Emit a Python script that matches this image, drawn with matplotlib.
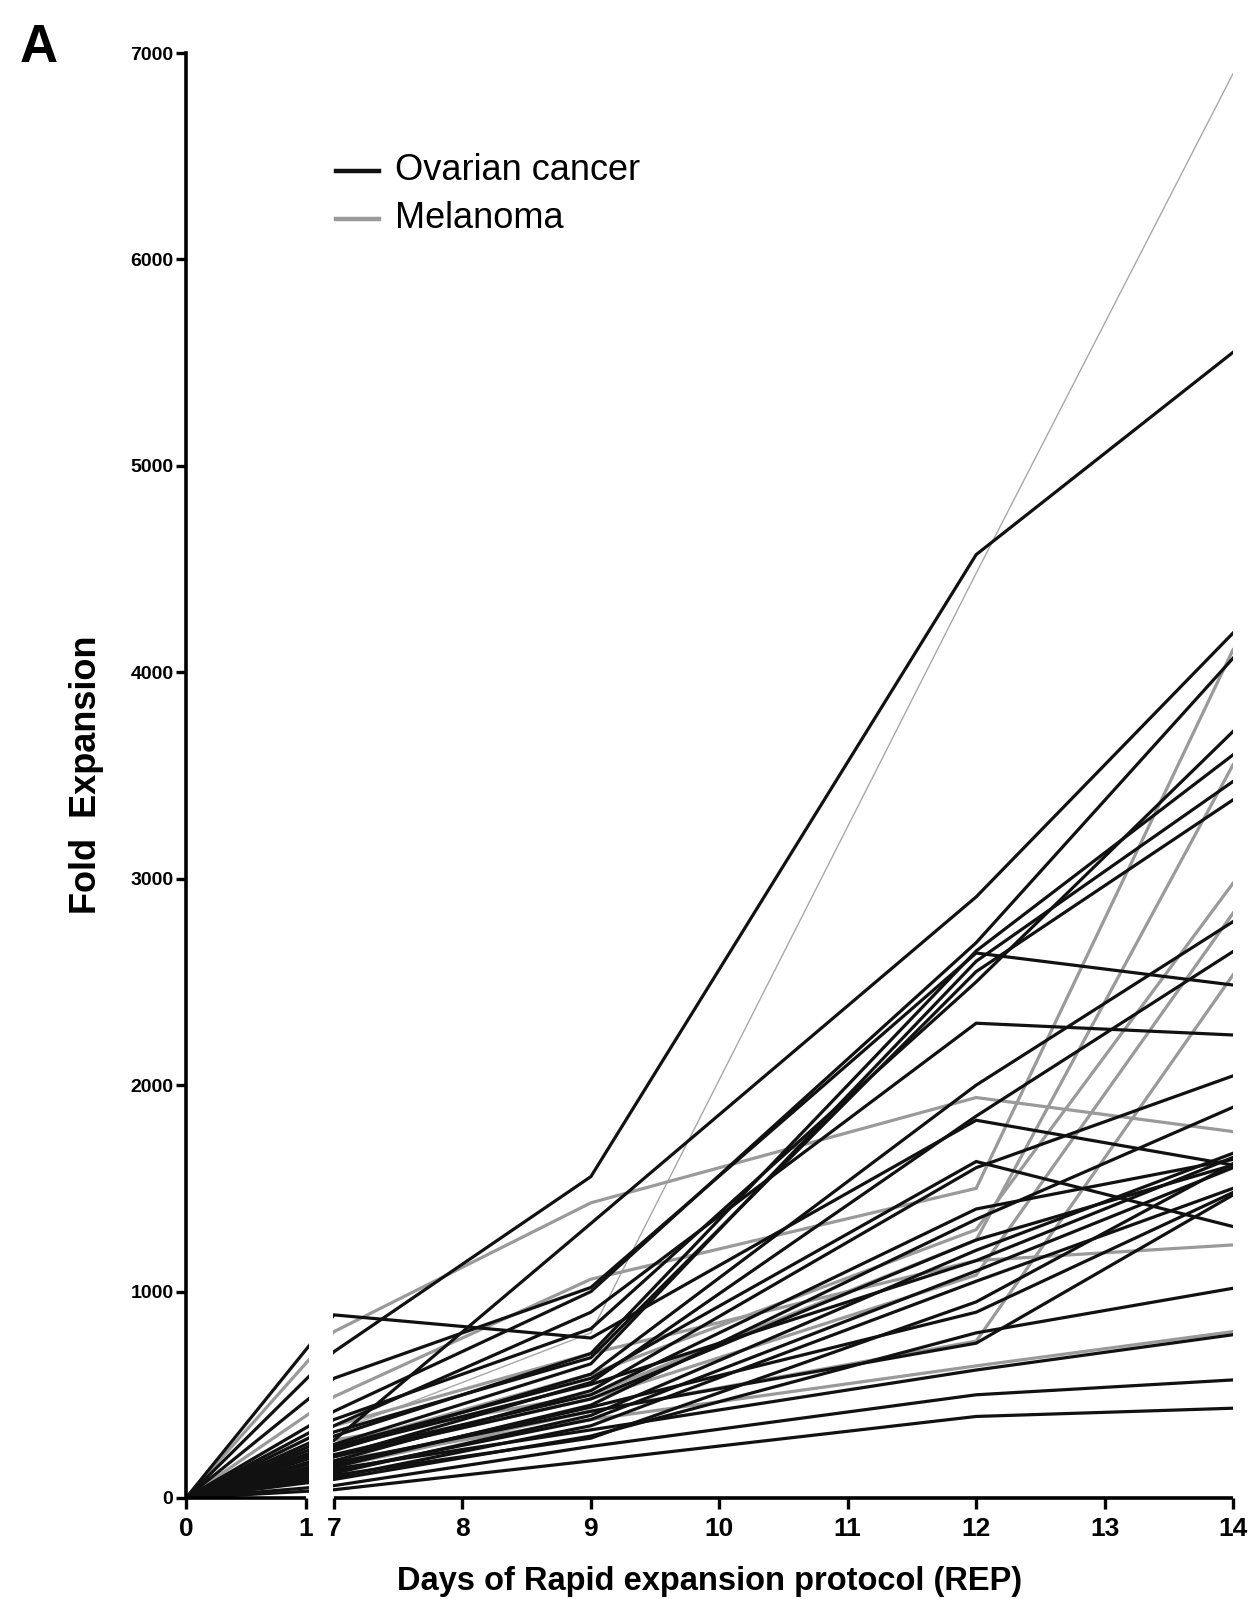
import matplotlib
matplotlib.use("Agg")
import matplotlib.pyplot as plt
from matplotlib import font_manager
from matplotlib.lines import Line2D
from matplotlib.patches import Rectangle

# Sampling days of the rapid expansion protocol
days = [0, 7, 9, 12, 14]

# Fold expansion per culture at days 7, 9, 12, 14 (day 0 is 0)
ovarian = [
    [709, 1557, 4570, 5550],
    [280, 1330, 2912, 4190],
    [420, 1000, 2690, 4068],
    [380, 820, 2500, 3713],
    [887, 775, 1830, 1613],
    [580, 1020, 2640, 2485],
    [350, 900, 2300, 2243],
    [300, 700, 2650, 3600],
    [260, 650, 2600, 3471],
    [320, 680, 2550, 3382],
    [230, 600, 2000, 2792],
    [200, 560, 1850, 2647],
    [180, 520, 1600, 2045],
    [250, 580, 1630, 1315],
    [150, 450, 1350, 1893],
    [120, 400, 1200, 1670],
    [200, 480, 1250, 1613],
    [100, 350, 1050, 1500],
    [170, 420, 750, 1468],
    [90, 300, 800, 1016],
    [140, 330, 620, 791],
    [60, 250, 500, 572],
    [40, 180, 395, 435],
    [110, 290, 950, 1620],
    [130, 380, 1100, 1600],
    [210, 500, 1400, 1640],
    [160, 440, 900, 1480],
    [240, 550, 1150, 1650],
]
melanoma = [
    [320, 800, 4480, 6900],
    [806, 1430, 1940, 1775],
    [491, 1060, 1500, 4109],
    [280, 500, 1250, 3552],
    [250, 600, 1300, 2978],
    [200, 480, 1080, 2833],
    [150, 420, 760, 2534],
    [350, 700, 1150, 1226],
    [180, 380, 640, 806],
]

x_ticks = [0, 1, 7, 8, 9, 10, 11, 12, 13, 14]
y_ticks = [0, 1000, 2000, 3000, 4000, 5000, 6000, 7000]

# Broken day axis: 0-1 is a short segment, 7-14 is linear after a gap
SEG1 = 0.935
SEG2_START = 1.153


def to_axis(d):
    if d <= 1:
        return d * SEG1
    return SEG2_START + (d - 7)


available = {f.name for f in font_manager.fontManager.ttflist}
narrow = "Liberation Sans Narrow" if "Liberation Sans Narrow" in available else "Liberation Sans"
regular = "Liberation Sans"

fig = plt.figure(figsize=(12.53, 15.99), dpi=100)
ax = fig.add_axes([186 / 1253, 1 - 1498 / 1599, (1233 - 186) / 1253, (1498 - 53) / 1599])

xs = [to_axis(d) for d in days]
for row in melanoma:
    lw = 1.0 if max(row) > 6000 else 2.3
    col = "#a8a8a8" if max(row) > 6000 else "#9a9a9a"
    ax.plot(xs, [0] + row, color=col, lw=lw, zorder=2, solid_joinstyle="miter")
for row in ovarian:
    ax.plot(xs, [0] + row, color="#111111", lw=2.3, zorder=2.5, solid_joinstyle="miter")

ymax = 7000
ax.set_xlim(0, to_axis(14))
ax.set_ylim(0, ymax)

# White gap across the broken part of the day axis
gap0, gap1 = 0.955, 1.147
ax.add_patch(Rectangle((gap0, 0), gap1 - gap0, ymax, facecolor="white",
                       edgecolor="none", zorder=3))

for side in ["top", "right", "bottom"]:
    ax.spines[side].set_visible(False)
ax.spines["left"].set_linewidth(2.6)
ax.spines["left"].set_zorder(5)

# Bottom axis in two pieces
for a, b in [(0, to_axis(1)), (to_axis(7), to_axis(14))]:
    ax.plot([a, b], [0, 0], color="black", lw=2.6, zorder=5, clip_on=False,
            solid_capstyle="butt")

ax.set_xticks([to_axis(d) for d in x_ticks])
ax.set_xticklabels([str(d) for d in x_ticks], fontfamily=narrow, fontweight="bold", fontsize=19)
ax.set_yticks(y_ticks)
ax.set_yticklabels([str(v) for v in y_ticks], fontfamily=narrow, fontweight="bold", fontsize=14)
ax.tick_params(axis="x", length=8, width=2.4, pad=6)
ax.tick_params(axis="y", length=7, width=2.4, pad=2)

fig.text(87 / 1253, 1 - 775 / 1599, "Fold  Expansion", rotation=90, ha="center", va="center",
         fontfamily=regular, fontweight="bold", fontsize=26)
fig.text(0.5665, 1 - 1590 / 1599, "Days of Rapid expansion protocol (REP)", ha="center",
         va="baseline", fontfamily=narrow, fontweight="bold", fontsize=23.5)

fig.text(20 / 1253, 1 - 62 / 1599, "A", fontfamily=regular, fontweight="bold", fontsize=38,
         va="baseline")

# Legend
for y_px, col, label in [(171, "#111111", "Ovarian cancer"), (219, "#9a9a9a", "Melanoma")]:
    yf = 1 - y_px / 1599
    fig.add_artist(Line2D([336 / 1253, 379 / 1253], [yf, yf], color=col, lw=3.2))
    fig.text(395 / 1253, yf, label, fontfamily=regular, fontsize=26, va="center", ha="left")

fig.savefig("out.png", dpi=100, facecolor="white")
